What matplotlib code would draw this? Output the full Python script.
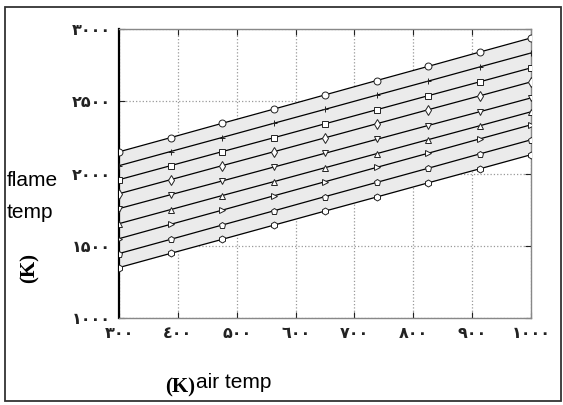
import matplotlib
matplotlib.use("Agg")
import matplotlib.pyplot as plt
from matplotlib.patches import Rectangle

# ---- data ----
air_temp = [300, 387.5, 475, 562.5, 650, 737.5, 825, 912.5, 1000]
s1 = [2150, 2248, 2347, 2445, 2544, 2643, 2741, 2840, 2938]
s2 = [2054, 2152, 2249, 2347, 2444, 2542, 2639, 2737, 2834]
s3 = [1957, 2054, 2151, 2247, 2344, 2441, 2538, 2634, 2731]
s4 = [1860, 1957, 2054, 2150, 2247, 2344, 2441, 2537, 2634]
s5 = [1757, 1853, 1948, 2044, 2140, 2236, 2332, 2427, 2523]
s6 = [1653, 1750, 1847, 1943, 2040, 2137, 2234, 2330, 2427]
s7 = [1549, 1648, 1746, 1845, 1943, 2042, 2140, 2239, 2337]
s8 = [1446, 1544, 1643, 1741, 1840, 1938, 2036, 2135, 2233]
s9 = [1349, 1447, 1544, 1642, 1740, 1837, 1935, 2032, 2130]
series = [s1, s2, s3, s4, s5, s6, s7, s8, s9]
markers = ['o', '+', 's', 'd', 'v', '^', '>', 'p', 'h']

x_ticks = [300, 400, 500, 600, 700, 800, 900, 1000]
x_ticklabels = ['۳۰۰', '٤۰۰', '۵۰۰', '٦۰۰', '۷۰۰', '۸۰۰', '۹۰۰', '۱۰۰۰']
y_ticks = [1000, 1500, 2000, 2500, 3000]
y_ticklabels = ['۱۰۰۰', '۱۵۰۰', '۲۰۰۰', '۲۵۰۰', '۳۰۰۰']

W, H = 563, 405
fig = plt.figure(figsize=(W / 100, H / 100), dpi=100)
fig.patch.set_facecolor('white')

# outer frame
fig.patches.append(Rectangle((5 / W, 1 - 401 / H), 556 / W, 394 / H,
                             transform=fig.transFigure, fill=False,
                             edgecolor='#333333', lw=1.3))

ax = fig.add_axes([119 / W, 1 - 318 / H, 412 / W, 289 / H])
ax.set_xlim(300, 1000)
ax.set_ylim(1000, 3000)

# shaded band
ax.fill_between(air_temp, s9, s1, color='#ebebeb', zorder=1, lw=0)

for s, m in zip(series, markers):
    ax.plot(air_temp, s, color='black', lw=0.9, marker=m, markersize=5,
            markerfacecolor='white' if m != '+' else 'black',
            markeredgecolor='#222222', markeredgewidth=0.7, zorder=3)

ax.set_xticks(x_ticks)
ax.set_xticklabels(x_ticklabels, fontsize=11.5, fontweight='bold',
                   family=['DejaVu Sans'])
ax.set_yticks(y_ticks)
ax.set_yticklabels(y_ticklabels, fontsize=11.5, fontweight='bold',
                   family=['DejaVu Sans'])
ax.tick_params(direction='in', length=4, width=0.8, top=True, right=True,
               pad=6, colors='#222222')
ax.grid(True, linestyle=':', color='#999999', lw=0.9, zorder=0)
ax.set_axisbelow(True)

for side in ['top', 'right', 'bottom']:
    ax.spines[side].set_color('#888888')
    ax.spines[side].set_linewidth(1.0)
ax.spines['left'].set_color('black')
ax.spines['left'].set_linewidth(1.6)

# y-axis label pieces
fig.text(7 / W, 1 - 181 / H, 'flame', fontsize=15, family='Liberation Sans',
         ha='left', va='center')
fig.text(7 / W, 1 - 212 / H, 'temp', fontsize=15, family='Liberation Sans',
         ha='left', va='center')
fig.text(30 / W, 1 - 268 / H, '(K)', fontsize=15, family='Liberation Serif',
         fontweight='bold', rotation=90, ha='center', va='center')

# x-axis label pieces
fig.text(195 / W, 1 - 392 / H, '(K)', fontsize=15, family='Liberation Serif',
         fontweight='bold', ha='right', va='baseline')
fig.text(196 / W, 1 - 388 / H, 'air temp', fontsize=15,
         family='Liberation Sans', ha='left', va='baseline')

fig.savefig('out.png', dpi=100)
